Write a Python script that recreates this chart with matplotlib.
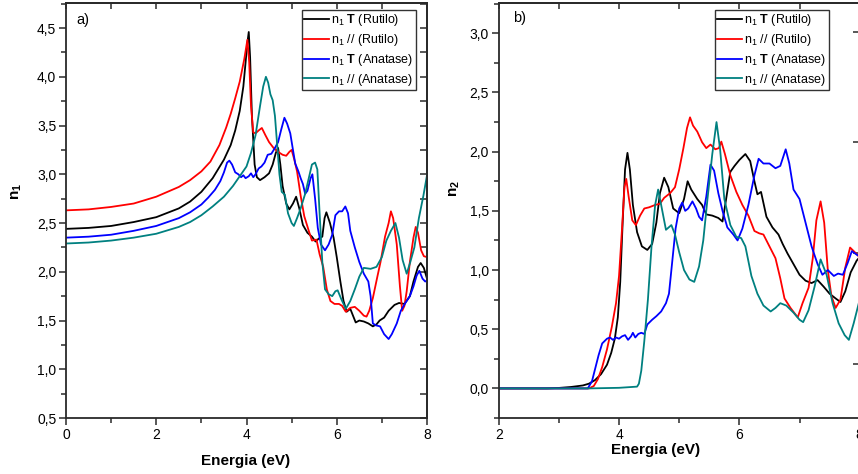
import matplotlib
matplotlib.use("Agg")
import matplotlib.pyplot as plt
from matplotlib.ticker import MultipleLocator, FuncFormatter, NullFormatter, FixedLocator

plt.rcParams['font.family'] = ['Liberation Sans', 'DejaVu Sans']
plt.rcParams['mathtext.fontset'] = 'custom'
plt.rcParams['mathtext.rm'] = 'Liberation Sans'
plt.rcParams['mathtext.bf'] = 'Liberation Sans:bold'
plt.rcParams['mathtext.it'] = 'Liberation Sans:italic'
plt.rcParams['mathtext.default'] = 'regular'

# ---- (a) real part n1 ----
a_black_E = [0, 0.5, 1.0, 1.5, 2.0, 2.5, 2.75, 3.0, 3.25, 3.5, 3.65, 3.75, 3.85, 3.93, 3.98, 4.02, 4.05,
             4.08, 4.12, 4.18, 4.23, 4.3, 4.4, 4.5, 4.58, 4.65, 4.7, 4.75, 4.8, 4.88, 4.95, 5.03, 5.1,
             5.17, 5.25, 5.35, 5.45, 5.53, 5.6, 5.68, 5.73, 5.77, 5.85, 5.93, 6.0, 6.08, 6.15, 6.22,
             6.3, 6.36, 6.42, 6.5, 6.6, 6.7, 6.8, 6.88, 6.95, 7.05, 7.15, 7.28, 7.38, 7.5, 7.62, 7.7,
             7.8, 7.86, 7.93, 8.0]
a_black_n = [2.44, 2.45, 2.47, 2.51, 2.56, 2.65, 2.72, 2.82, 2.96, 3.15, 3.30, 3.45, 3.65, 3.9, 4.15, 4.35, 4.46,
             4.2, 3.6, 3.1, 2.97, 2.94, 2.97, 3.01, 3.1, 3.22, 3.27, 3.1, 2.88, 2.7, 2.64, 2.7, 2.77,
             2.65, 2.48, 2.4, 2.36, 2.31, 2.34, 2.36, 2.55, 2.61, 2.5, 2.35, 2.15, 1.9, 1.7, 1.59,
             1.62, 1.55, 1.48, 1.5, 1.49, 1.47, 1.44, 1.46, 1.5, 1.53, 1.6, 1.66, 1.68, 1.67, 1.75, 1.9,
             2.05, 2.09, 2.04, 1.93]

a_red_E = [0, 0.5, 1.0, 1.5, 2.0, 2.5, 2.75, 3.0, 3.2, 3.4, 3.55, 3.65, 3.75, 3.85, 3.95, 4.02, 4.06, 4.1,
           4.15, 4.2, 4.27, 4.34, 4.42, 4.5, 4.6, 4.7, 4.8, 4.88, 4.95, 5.0, 5.06, 5.12, 5.2, 5.28, 5.38,
           5.45, 5.55, 5.62, 5.7, 5.78, 5.86, 5.95, 6.05, 6.12, 6.2, 6.3, 6.4, 6.5, 6.6, 6.66, 6.72, 6.8,
           6.9, 6.97, 7.07, 7.15, 7.2, 7.25, 7.33, 7.4, 7.45, 7.5, 7.55, 7.62, 7.7, 7.75, 7.8, 7.87, 7.93, 8.0]
a_red_n = [2.63, 2.64, 2.665, 2.70, 2.77, 2.87, 2.94, 3.03, 3.13, 3.3, 3.48, 3.62, 3.78, 3.95, 4.18, 4.38, 4.15, 3.7,
           3.43, 3.42, 3.45, 3.475, 3.4, 3.33, 3.27, 3.23, 3.2, 3.19, 3.23, 3.25, 3.15, 3.03, 2.78, 2.57, 2.42,
           2.32, 2.33, 2.18, 2.05, 1.82, 1.7, 1.67, 1.67, 1.65, 1.59, 1.63, 1.64, 1.6, 1.55, 1.54, 1.6, 1.73,
           1.95, 2.1, 2.36, 2.5, 2.62, 2.55, 2.28, 1.85, 1.6, 1.65, 1.8, 2.1, 2.35, 2.46, 2.4, 2.22, 2.16, 2.15]

a_blue_E = [0, 0.5, 1.0, 1.5, 2.0, 2.5, 2.75, 3.0, 3.15, 3.3, 3.42, 3.5, 3.57, 3.62, 3.68, 3.75, 3.82, 3.88,
            3.93, 3.98, 4.05, 4.1, 4.15, 4.2, 4.27, 4.33, 4.4, 4.47, 4.55, 4.63, 4.7, 4.77, 4.84, 4.9, 4.97,
            5.03, 5.08, 5.15, 5.2, 5.25, 5.3, 5.35, 5.42, 5.46, 5.52, 5.58, 5.65, 5.74, 5.82, 5.9, 5.97,
            6.05, 6.12, 6.19, 6.25, 6.3, 6.4, 6.5, 6.6, 6.7, 6.75, 6.8, 6.87, 6.96, 7.05, 7.15, 7.22, 7.33,
            7.42, 7.52, 7.62, 7.7, 7.77, 7.83, 7.9, 7.96, 8.0]
a_blue_n = [2.35, 2.36, 2.38, 2.42, 2.47, 2.55, 2.61, 2.69, 2.76, 2.84, 2.93, 3.02, 3.12, 3.14, 3.1, 3.02, 3.0, 2.97,
            2.99, 2.96, 2.98, 3.01, 2.97, 3.0, 3.06, 3.08, 3.12, 3.2, 3.21, 3.27, 3.33, 3.46, 3.58, 3.52, 3.42,
            3.25, 3.11, 3.03, 2.96, 2.9, 2.8, 2.83, 2.96, 3.0, 2.75, 2.45, 2.28, 2.22, 2.28, 2.38, 2.58,
            2.62, 2.62, 2.67, 2.6, 2.42, 2.25, 2.1, 1.98, 1.9, 1.75, 1.47, 1.45, 1.44, 1.36, 1.31, 1.36, 1.47,
            1.6, 1.68, 1.75, 1.85, 1.96, 2.01, 1.93, 1.9, 1.91]

a_teal_E = [0, 0.5, 1.0, 1.5, 2.0, 2.5, 2.75, 3.0, 3.25, 3.5, 3.7, 3.85, 4.0, 4.1, 4.2, 4.3, 4.37, 4.43, 4.48,
            4.53, 4.58, 4.63, 4.68, 4.73, 4.78, 4.85, 4.92, 5.0, 5.05, 5.12, 5.2, 5.3, 5.38, 5.45, 5.52, 5.57,
            5.62, 5.68, 5.74, 5.82, 5.9, 5.97, 6.02, 6.1, 6.2, 6.3, 6.4, 6.5, 6.6, 6.75, 6.88, 7.0, 7.1, 7.2,
            7.3, 7.38, 7.46, 7.55, 7.63, 7.72, 7.82, 7.92, 8.0]
a_teal_n = [2.29, 2.3, 2.32, 2.35, 2.39, 2.46, 2.51, 2.58, 2.67, 2.77, 2.88, 2.98, 3.08, 3.22, 3.4, 3.7, 3.9, 4.0, 3.94,
            3.82, 3.76, 3.6, 3.3, 3.0, 2.82, 2.79, 2.6, 2.5, 2.47, 2.55, 2.65, 2.8, 2.96, 3.1, 3.12, 3.05,
            2.6, 2.1, 1.82, 1.77, 1.75, 1.8, 1.81, 1.72, 1.62, 1.7, 1.82, 1.95, 2.04, 2.03, 2.05, 2.15, 2.32, 2.42,
            2.5, 2.35, 2.12, 1.98, 2.1, 2.25, 2.55, 2.78, 2.99]

# ---- (b) imaginary part n2 ----
b_black_E = [2.0, 2.8, 3.0, 3.2, 3.4, 3.5, 3.6, 3.7, 3.8, 3.87, 3.93, 3.98, 4.02, 4.06, 4.1, 4.14, 4.18, 4.23,
             4.3, 4.38, 4.47, 4.55, 4.62, 4.68, 4.75, 4.82, 4.9, 5.0, 5.08, 5.14, 5.2, 5.3, 5.38, 5.45, 5.55,
             5.65, 5.72, 5.78, 5.85, 5.92, 6.0, 6.1, 6.18, 6.25, 6.3, 6.36, 6.45, 6.55, 6.65, 6.72, 6.8, 6.9,
             7.0, 7.1, 7.2, 7.3, 7.4, 7.5, 7.6, 7.68, 7.76, 7.85, 7.95, 8.05]
b_black_n = [0.0, 0.0, 0.004, 0.012, 0.025, 0.04, 0.07, 0.12, 0.2, 0.3, 0.42, 0.6, 0.9, 1.4, 1.85, 1.99, 1.85, 1.55,
             1.32, 1.2, 1.17, 1.22, 1.4, 1.65, 1.78, 1.7, 1.52, 1.48, 1.6, 1.75, 1.68, 1.6, 1.55, 1.47, 1.46,
             1.44, 1.41, 1.6, 1.83, 1.88, 1.93, 1.98, 1.92, 1.75, 1.64, 1.66, 1.45, 1.36, 1.3, 1.22, 1.14, 1.05,
             0.96, 0.91, 0.89, 0.915, 0.86, 0.8, 0.76, 0.73, 0.82, 0.98, 1.08, 1.14]

b_red_E = [2.0, 3.5, 3.58, 3.65, 3.72, 3.8, 3.88, 3.95, 4.0, 4.05, 4.09, 4.12, 4.16, 4.22, 4.28, 4.35, 4.42, 4.5,
           4.6, 4.68, 4.75, 4.85, 4.93, 5.0, 5.07, 5.13, 5.18, 5.23, 5.3, 5.38, 5.45, 5.52, 5.6, 5.66, 5.7, 5.76,
           5.85, 5.95, 6.05, 6.15, 6.25, 6.33, 6.4, 6.5, 6.6, 6.68, 6.75, 6.85, 6.97, 7.05, 7.15, 7.22, 7.28,
           7.35, 7.41, 7.47, 7.53, 7.6, 7.68, 7.76, 7.84, 7.92, 8.05]
b_red_n = [0.0, 0.0, 0.02, 0.08, 0.18, 0.33, 0.52, 0.72, 0.95, 1.35, 1.7, 1.77, 1.62, 1.42, 1.38, 1.46, 1.52, 1.53,
           1.55, 1.56, 1.61, 1.65, 1.7, 1.85, 2.03, 2.2, 2.29, 2.22, 2.17, 2.08, 2.03, 2.06, 2.02, 2.03, 2.085, 1.98,
           1.8, 1.66, 1.55, 1.46, 1.33, 1.31, 1.3, 1.2, 1.1, 0.93, 0.76, 0.68, 0.6, 0.72, 0.85, 1.1, 1.42,
           1.58, 1.4, 1.0, 0.78, 0.68, 0.75, 1.02, 1.19, 1.15, 1.08]

b_blue_E = [2.0, 3.48, 3.55, 3.6, 3.66, 3.72, 3.8, 3.85, 3.9, 3.95, 4.0, 4.05, 4.1, 4.15, 4.2, 4.23, 4.27, 4.32,
            4.37, 4.42, 4.47, 4.55, 4.62, 4.7, 4.78, 4.83, 4.88, 4.94, 5.0, 5.05, 5.1, 5.15, 5.22, 5.28, 5.33,
            5.38, 5.45, 5.52, 5.58, 5.65, 5.72, 5.8, 5.9, 5.97, 6.05, 6.15, 6.25, 6.32, 6.4, 6.5, 6.6, 6.68,
            6.77, 6.83, 6.9, 7.0, 7.1, 7.2, 7.3, 7.38, 7.47, 7.57, 7.64, 7.72, 7.8, 7.87, 7.95, 8.05]
b_blue_n = [0.0, 0.0, 0.06, 0.16, 0.28, 0.38, 0.42, 0.43, 0.41, 0.43, 0.42, 0.44, 0.45, 0.41, 0.44, 0.47, 0.43, 0.46,
            0.47, 0.46, 0.54, 0.58, 0.61, 0.65, 0.72, 0.8, 1.05, 1.35, 1.52, 1.57, 1.5, 1.52, 1.58, 1.52, 1.45,
            1.42, 1.62, 1.89, 1.84, 1.65, 1.5, 1.36, 1.3, 1.25, 1.35, 1.55, 1.8, 1.94, 1.9, 1.9, 1.86, 1.88,
            2.02, 1.9, 1.68, 1.6, 1.4, 1.2, 1.05, 0.96, 1.0, 0.95, 0.97, 0.96, 1.06, 1.16, 1.13, 1.1]

b_teal_E = [2.0, 3.5, 4.0, 4.3, 4.33, 4.37, 4.42, 4.48, 4.54, 4.6, 4.65, 4.7, 4.78, 4.87, 4.93, 5.0, 5.08, 5.17,
            5.25, 5.33, 5.4, 5.47, 5.55, 5.62, 5.68, 5.75, 5.85, 5.95, 6.03, 6.1, 6.2, 6.3, 6.4, 6.52, 6.6,
            6.68, 6.78, 6.9, 7.0, 7.06, 7.15, 7.25, 7.35, 7.45, 7.55, 7.65, 7.75, 7.82, 7.9, 8.0]
b_teal_n = [0.0, 0.0, 0.005, 0.015, 0.04, 0.15, 0.4, 0.75, 1.2, 1.55, 1.68, 1.55, 1.34, 1.38, 1.3, 1.15, 1.0, 0.92,
            0.9, 1.03, 1.25, 1.6, 1.98, 2.25, 2.02, 1.6, 1.38, 1.28, 1.27, 1.2, 0.95, 0.8, 0.7, 0.65, 0.68,
            0.72, 0.7, 0.64, 0.58, 0.56, 0.66, 0.86, 1.09, 0.96, 0.72, 0.55, 0.45, 0.41, 0.55, 0.75]

labels = [r"n$_1$ $\mathbf{T}$ (Rutilo)", r"n$_1$ $\mathit{//}$ (Rutilo)",
          r"n$_1$ $\mathbf{T}$ (Anatase)", r"n$_1$ $\mathit{//}$ (Anatase)"]
colors = ['#000000', '#ff0000', '#0000ff', '#008080']

W, H = 858, 474
fig = plt.figure(figsize=(W / 100, H / 100), dpi=100)
ax_w, ax_h = 361 / W, 415 / H
ax_b0 = 1 - 418 / H
axa = fig.add_axes([66 / W, ax_b0, ax_w, ax_h])
axb = fig.add_axes([498.7 / W, ax_b0, ax_w, ax_h])

spine_col = '#2a2a2a'
comma = FuncFormatter(lambda v, p: f"{v:.1f}".replace('.', ','))


def style(ax, xmaj, xmin, ymaj, ymin, right_ticks=None):
    for s in ax.spines.values():
        s.set_linewidth(1.3)
        s.set_color(spine_col)
    ax.xaxis.set_major_locator(MultipleLocator(xmaj))
    ax.xaxis.set_minor_locator(MultipleLocator(xmin))
    ax.yaxis.set_major_locator(MultipleLocator(ymaj))
    ax.yaxis.set_minor_locator(MultipleLocator(ymin))
    ax.yaxis.set_major_formatter(comma)
    ax.xaxis.set_major_formatter(FuncFormatter(lambda v, p: f"{v:.0f}"))
    ax.tick_params(which='both', direction='out', width=1.1, color=spine_col,
                   labelsize=10, pad=2, top=False, right=False)
    ax.tick_params(which='major', length=5)
    ax.tick_params(which='minor', length=3.5)
    top = ax.secondary_xaxis('top')
    top.xaxis.set_major_locator(MultipleLocator(xmaj))
    top.xaxis.set_minor_locator(MultipleLocator(xmin))
    top.xaxis.set_major_formatter(NullFormatter())
    top.tick_params(which='both', direction='in', length=4.5, width=1.1, color=spine_col)
    rgt = ax.secondary_yaxis('right')
    if right_ticks is None:
        rgt.yaxis.set_major_locator(MultipleLocator(ymaj))
        rgt.yaxis.set_minor_locator(MultipleLocator(ymin))
    else:
        rgt.yaxis.set_major_locator(FixedLocator(right_ticks))
    rgt.yaxis.set_major_formatter(NullFormatter())
    rgt.tick_params(which='both', direction='in', length=5, width=1.1, color=spine_col)
    for sec in (top, rgt):
        for s in sec.spines.values():
            s.set_linewidth(1.3)
            s.set_color(spine_col)


lw = 1.3
for E, n, c, lab in zip([a_black_E, a_red_E, a_blue_E, a_teal_E],
                        [a_black_n, a_red_n, a_blue_n, a_teal_n], colors, labels):
    axa.plot(E, n, color=c, lw=lw, label=lab)
axa.set_xlim(0, 8)
axa.set_ylim(0.5, 4.757)
style(axa, 2, 1, 0.5, 0.25)

for E, n, c, lab in zip([b_black_E, b_red_E, b_blue_E, b_teal_E],
                        [b_black_n, b_red_n, b_blue_n, b_teal_n], colors, labels):
    axb.plot(E, n, color=c, lw=lw, label=lab)
axb.set_xlim(2, 8)
axb.set_ylim(-0.25, 3.256)
style(axb, 2, 1, 0.5, 0.25, right_ticks=[0.21, 1.145, 2.08, 3.01])

leg_kw = dict(loc='upper right', fontsize=9, frameon=True, fancybox=False, framealpha=1,
              edgecolor='#333333', handlelength=2.0, handletextpad=0.15, borderpad=0.2,
              labelspacing=0.3, borderaxespad=0)
la = axa.legend(bbox_to_anchor=((416 - 66) / 361, (418 - 10) / 415), **leg_kw)
lb = axb.legend(bbox_to_anchor=((829 - 498.7) / 361, (418 - 10) / 415), **leg_kw)
for lg in (la, lb):
    lg.get_frame().set_linewidth(1.0)

axa.text(0.03, 0.959, 'a)', transform=axa.transAxes, fontsize=10.5, va='center', ha='left')
axb.text(0.04, 0.965, 'b)', transform=axb.transAxes, fontsize=10.5, va='center', ha='left')

fig.text(246 / W, 1 - 461 / H, 'Energia (eV)', fontsize=11, fontweight='bold', ha='center', va='center')
fig.text(656 / W, 1 - 450 / H, 'Energia (eV)', fontsize=11, fontweight='bold', ha='center', va='center')
fig.text(17 / W, 1 - 191 / H, 'n$_1$', fontsize=11, fontweight='bold', rotation=90, ha='center', va='center')
fig.text(455 / W, 1 - 189 / H, 'n$_2$', fontsize=11, fontweight='bold', rotation=90, ha='center', va='center')

fig.savefig('out.png', dpi=100)
